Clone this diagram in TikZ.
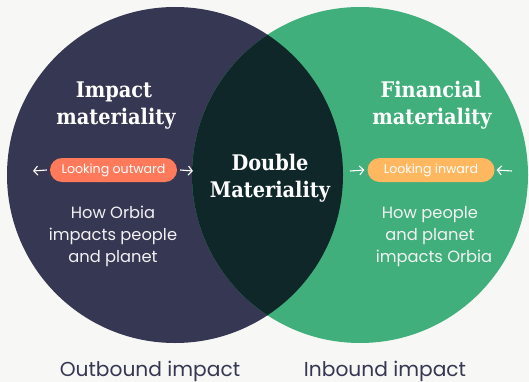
\documentclass[tikz,border=0pt]{standalone}
\usepackage{fontspec}
\setmainfont{Liberation Serif}
\newfontfamily\headfont[FakeStretch=0.9]{DejaVu Serif}
\newfontfamily\bodyfont{Poppins}
\usetikzlibrary{arrows.meta}
\definecolor{navy}{HTML}{363752}
\definecolor{grn}{HTML}{40AF7B}
\definecolor{deep}{HTML}{0F2729}
\definecolor{coral}{HTML}{FF7A5B}
\definecolor{amber}{HTML}{FFB760}
\definecolor{bg}{HTML}{F7F7F5}
\definecolor{soft}{HTML}{F2F2F4}
\begin{document}
\begin{tikzpicture}[x=1pt,y=-1pt,
  head/.style={anchor=base,text=white,font=\headfont\bfseries\fontsize{21.5}{25}\selectfont,inner sep=0pt},
  body/.style={anchor=base,text=soft,font=\bodyfont\fontsize{16.3}{18}\selectfont,inner sep=0pt},
  pill/.style={rounded corners=12pt,minimum width=127pt,minimum height=24pt,inner sep=0pt,text=white,font=\bodyfont\fontsize{12.6}{14}\selectfont},
  arr/.style={draw=white,line width=1.1pt,-{Straight Barb[length=4pt,width=9pt]}},
  foot/.style={anchor=base,text=navy,font=\bodyfont\fontsize{20.2}{22}\selectfont,inner sep=0pt}]
\fill[bg] (0,0) rectangle (529,382);
\useasboundingbox (0,0) rectangle (529,382);
\fill[navy] (175,175) circle[radius=168pt];
\fill[grn] (360,175) circle[radius=168pt];
\begin{scope}
  \clip (175,175) circle[radius=168pt];
  \fill[deep] (360,175) circle[radius=168pt];
\end{scope}
% headings
\node[head] (im1) at (114,98) {Impact};
\node[head] (im2) at (116,125) {materiality};
\node[head] (db1) at (270,170) {Double};
\node[head] (db2) at (270,197) {Materiality};
\node[head] (fm1) at (431,98) {Financial};
\node[head] (fm2) at (432,125) {materiality};
% pills
\node[pill,fill=coral] (po) at (113.5,170) {Looking outward};
\node[pill,fill=amber] (pi) at (431,170) {Looking inward};
\coordinate (poL) at (33,171);
\coordinate (poR) at (193,171);
\coordinate (piL) at (350,171);
\coordinate (piR) at (512,171);
\draw[arr] ([xshift=-3pt]po.west) -- (poL);
\draw[arr] ([xshift=3pt]po.east) -- (poR);
\draw[arr] (piL) -- ([xshift=-3pt]pi.west);
\draw[arr] (piR) -- ([xshift=2pt]pi.east);
% body
\node[body] (b1) at (113,218) {How Orbia};
\node[body] (b2) at (113,240) {impacts people};
\node[body] (b3) at (113,262) {and planet};
\node[body] (c1) at (430,218) {How people};
\node[body] (c2) at (430,240) {and planet};
\node[body] (c3) at (434,262) {impacts Orbia};
% footers
\node[foot] (ob) at (150,376) {Outbound impact};
\node[foot] (ib) at (385,376) {Inbound impact};
\end{tikzpicture}
\end{document}
